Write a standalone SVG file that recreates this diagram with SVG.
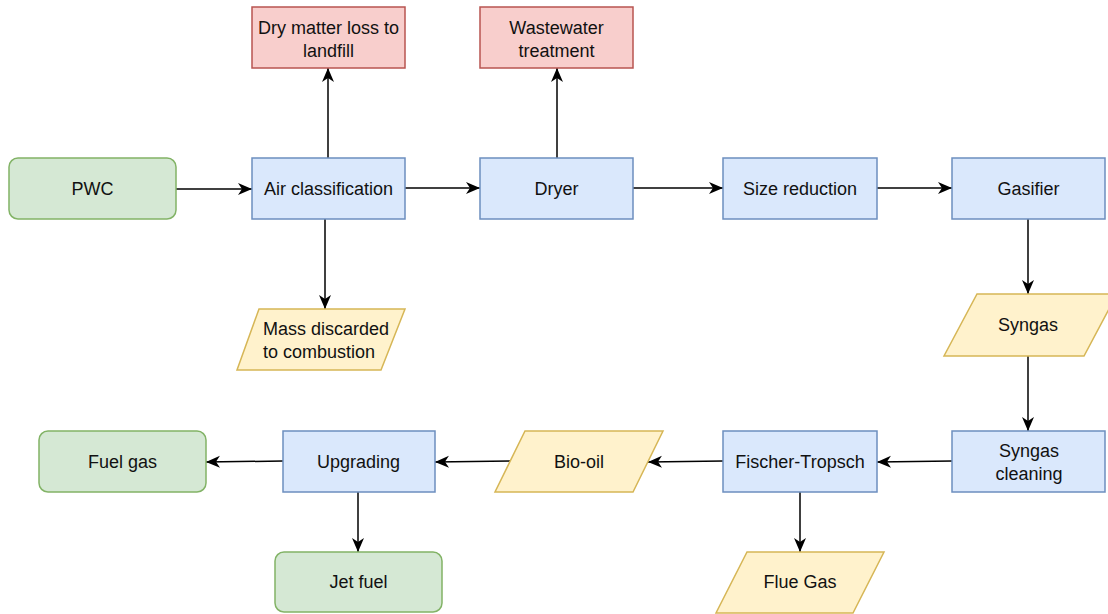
<svg xmlns="http://www.w3.org/2000/svg" width="1108" height="614" viewBox="0 0 1108 614">
  <defs>
    <marker id="arrow" markerUnits="userSpaceOnUse" markerWidth="15" markerHeight="13" refX="14" refY="6.5" orient="auto">
      <path d="M0,0.5 L14,6.5 L0,12.5 L4,6.5 Z" fill="#000"/>
    </marker>
    <style>
      text { font-family: "Liberation Sans", Arial, sans-serif; font-size: 18px; fill: #111; text-anchor: middle; }
      .green { fill: #d5e8d4; stroke: #82b366; stroke-width: 1.5; }
      .blue { fill: #dae8fc; stroke: #6c8ebf; stroke-width: 1.5; }
      .red { fill: #f8cecc; stroke: #b85450; stroke-width: 1.5; }
      .yellow { fill: #fff2cc; stroke: #d6b656; stroke-width: 1.5; }
      .edge { fill: none; stroke: #000; stroke-width: 1.5; marker-end: url(#arrow); }
    </style>
  </defs>
  <rect width="1108" height="614" fill="#fff"/>

  <!-- connectors -->
  <g id="connectors">
    <path class="edge" d="M176,189 L252,189"/>
    <path class="edge" d="M405,188 L480,188"/>
    <path class="edge" d="M633,188 L723,188"/>
    <path class="edge" d="M877,188 L952,188"/>
    <path class="edge" d="M328,158 L328,68"/>
    <path class="edge" d="M325,219 L325,309"/>
    <path class="edge" d="M557,158 L557,68"/>
    <path class="edge" d="M1028,219 L1028,294"/>
    <path class="edge" d="M1028,356 L1028,431"/>
    <path class="edge" d="M952,461 L877,462"/>
    <path class="edge" d="M723,461 L648,462"/>
    <path class="edge" d="M510,461 L435,462"/>
    <path class="edge" d="M283,461 L206,462"/>
    <path class="edge" d="M358,492 L358,552"/>
    <path class="edge" d="M800,492 L800,552"/>
  </g>

  <!-- nodes -->
  <g id="pwc">
    <rect class="green" x="9" y="158" width="167" height="61" rx="9"/>
    <text x="92.5" y="194.5">PWC</text>
  </g>
  <g id="air-classification">
    <rect class="blue" x="252" y="158" width="153" height="61"/>
    <text x="328.5" y="194.5">Air classification</text>
  </g>
  <g id="dryer">
    <rect class="blue" x="480" y="158" width="153" height="61"/>
    <text x="556.5" y="194.5">Dryer</text>
  </g>
  <g id="size-reduction">
    <rect class="blue" x="723" y="158" width="154" height="61"/>
    <text x="800" y="194.5">Size reduction</text>
  </g>
  <g id="gasifier">
    <rect class="blue" x="952" y="158" width="153" height="61"/>
    <text x="1028.5" y="194.5">Gasifier</text>
  </g>
  <g id="landfill">
    <rect class="red" x="252" y="7" width="153" height="61"/>
    <text x="328.5" y="33.5">Dry matter loss to</text>
    <text x="328.5" y="56.5">landfill</text>
  </g>
  <g id="wastewater">
    <rect class="red" x="480" y="7" width="153" height="61"/>
    <text x="556.5" y="33.5">Wastewater</text>
    <text x="556.5" y="56.5">treatment</text>
  </g>
  <g id="mass-discarded">
    <polygon class="yellow" points="259,309 405,309 381,370 237,370"/>
    <text x="263" y="334.5" style="text-anchor:start">Mass discarded</text>
    <text x="263" y="357.5" style="text-anchor:start">to combustion</text>
  </g>
  <g id="syngas">
    <polygon class="yellow" points="977,294 1117,294 1084,356 944,356"/>
    <text x="1028" y="331">Syngas</text>
  </g>
  <g id="syngas-cleaning">
    <rect class="blue" x="952" y="431" width="153" height="61"/>
    <text x="1029" y="456.5">Syngas</text>
    <text x="1029" y="479.5">cleaning</text>
  </g>
  <g id="fischer-tropsch">
    <rect class="blue" x="723" y="431" width="154" height="61"/>
    <text x="800" y="467.5">Fischer-Tropsch</text>
  </g>
  <g id="bio-oil">
    <polygon class="yellow" points="525,431 663,431 633,492 495,492"/>
    <text x="579" y="467.5">Bio-oil</text>
  </g>
  <g id="upgrading">
    <rect class="blue" x="283" y="431" width="152" height="61"/>
    <text x="358.5" y="467.5">Upgrading</text>
  </g>
  <g id="fuel-gas">
    <rect class="green" x="39" y="431" width="167" height="61" rx="9"/>
    <text x="122.5" y="467.5">Fuel gas</text>
  </g>
  <g id="jet-fuel">
    <rect class="green" x="275" y="552" width="167" height="60" rx="9"/>
    <text x="358.5" y="588">Jet fuel</text>
  </g>
  <g id="flue-gas">
    <polygon class="yellow" points="747,552 884,552 853,613 716,613"/>
    <text x="800" y="588">Flue Gas</text>
  </g>
</svg>
